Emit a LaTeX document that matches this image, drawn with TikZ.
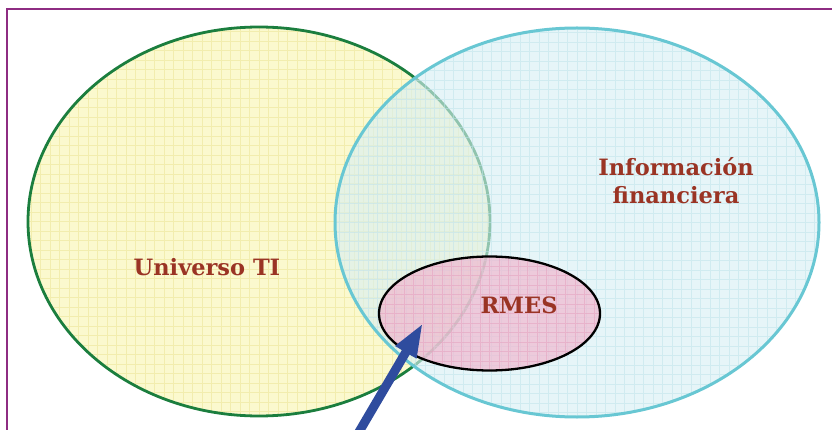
\documentclass[tikz,border=0pt]{standalone}
\usepackage{fontspec}
\setmainfont{DejaVu Serif}
\usetikzlibrary{shapes.geometric,arrows.meta}

\definecolor{frameline}{HTML}{8E2C82}
\definecolor{tifill}{HTML}{FBF9CE}
\definecolor{tigrid}{HTML}{F2EDAE}
\definecolor{tiedge}{HTML}{1B7E3E}
\definecolor{finfill}{HTML}{D8EFF4}
\definecolor{fingrid}{HTML}{BFE3EB}
\definecolor{finedge}{HTML}{68C7D3}
\definecolor{rmesfill}{HTML}{F0B9D0}
\definecolor{rmesgrid}{HTML}{E59DBD}
\definecolor{labeltext}{HTML}{9A3424}
\definecolor{pointer}{HTML}{2F4C9E}

\tikzset{
  setzone/.style={ellipse, inner sep=0pt, outer sep=0pt},
  gridded/.style 2 args={path picture={
      \draw[#1, line width=0.6pt, draw opacity=#2, step=9.5pt]
        (path picture bounding box.south west) grid (path picture bounding box.north east);}},
  setlabel/.style={text=labeltext, font=\fontsize{22.5}{28}\selectfont\bfseries, align=center},
}

\begin{document}
\begin{tikzpicture}[x=1pt, y=-1pt]
  \useasboundingbox (0,0) rectangle (832,430);
  \clip (0,0) rectangle (832,430);
  \fill[white] (0,0) rectangle (832,430);

  % slide frame
  \draw[frameline, line width=1.8pt] (7,460) -- (7,9) -- (860,9);

  % Universo TI
  \node[setzone, minimum width=462pt, minimum height=389pt,
        fill=tifill, gridded={tigrid}{1}, draw=tiedge, line width=2.8pt]
        (ti) at (259,221.5) {};

  % Informacion financiera (translucent over the first set)
  \node[setzone, minimum width=484pt, minimum height=389pt,
        fill=finfill, fill opacity=0.62, gridded={fingrid}{0.55}]
        (fin) at (577,222.5) {};
  \node[setzone, minimum width=484pt, minimum height=389pt,
        draw=finedge, line width=3pt]
        (finedge) at (577,222.5) {};

  % RMES
  \node[setzone, minimum width=221pt, minimum height=114pt,
        fill=rmesfill, fill opacity=0.7, gridded={rmesgrid}{0.5}]
        (rmes) at (489.5,313.5) {};
  \node[setzone, minimum width=221pt, minimum height=114pt,
        draw=black, line width=2.3pt]
        (rmesedge) at (489.5,313.5) {};

  % labels
  \node[setlabel] (tilabel) at (207,267) {Universo TI};
  \node[setlabel] (finlabel) at (676,181) {Información\\financiera};
  \node[setlabel] (rmeslabel) at (519,305) {RMES};

  % pointer arrow
  \coordinate (arrowstart) at (356,437);
  \coordinate (arrowtip) at (423,323);
  \draw[pointer, line width=9pt, -{Triangle[length=34pt, width=22pt]}]
    (arrowstart) -- (arrowtip);
\end{tikzpicture}
\end{document}
